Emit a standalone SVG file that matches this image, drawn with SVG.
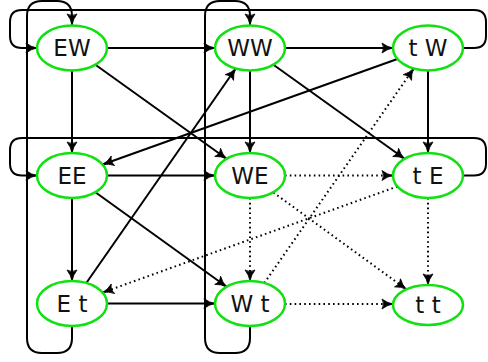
<svg xmlns="http://www.w3.org/2000/svg" width="488" height="362" viewBox="0 0 488 362">
  <defs>
    <marker id="arr" markerUnits="userSpaceOnUse" markerWidth="14" markerHeight="12" viewBox="0 0 14 12" refX="12" refY="6" orient="auto">
      <path d="M1,1 Q6,5 12,6 Q6,7 1,11 Q4,6 1,1 Z" fill="#000" stroke="#000" stroke-width="0.8" stroke-linejoin="round"/>
    </marker>
  </defs>
  <style>
    .node ellipse { fill: #fff; stroke: #11e011; stroke-width: 2.5; }
    .node text { font-family: "DejaVu Sans", sans-serif; font-size: 23px; fill: #111; text-anchor: middle; }
    .e { fill: none; stroke: #000; stroke-width: 2; marker-end: url(#arr); }
    .d { stroke-dasharray: 1.6 3.2; stroke-linecap: butt; }
  </style>

  <g id="edges">
    <!-- wrap-around edges -->
    <path class="e" d="M72,326 L72,338 Q72,353 57,353 L42,353 Q27,353 27,338 L27,16 Q27,1 42,1 L57,1 Q72,1 72,16 L72,25"/>
    <path class="e" d="M250,326 L250,338 Q250,353 235,353 L220,353 Q205,353 205,338 L205,16 Q205,1 220,1 L235,1 Q250,1 250,16 L250,25"/>
    <path class="e" d="M463,48 L474,48 Q486,48 486,36 L486,22 Q486,10 474,10 L22,10 Q10,10 10,22 L10,36 Q10,48 22,48 L37,48"/>
    <path class="e" d="M463,175.5 L474,175.5 Q486,175.5 486,163.5 L486,150 Q486,138 474,138 L22,138 Q10,138 10,150 L10,163.5 Q10,175.5 22,175.5 L37,175.5"/>

    <!-- solid edges -->
    <path class="e" d="M107,48 L215,48"/>
    <path class="e" d="M285,48 L393,48"/>
    <path class="e" d="M72,70.5 L72,153"/>
    <path class="e" d="M250,70.5 L250,153"/>
    <path class="e" d="M428,70.5 L428,153"/>
    <path class="e" d="M107,175.5 L215,175.5"/>
    <path class="e" d="M72,198 L72,281"/>
    <path class="e" d="M107,303.5 L215,303.5"/>
    <path class="e" d="M95.4,64.7 L226.6,158.8"/>
    <path class="e" d="M273.4,64.7 L404.6,158.8"/>
    <path class="e" d="M95.4,192.2 L226.6,286.8"/>
    <path class="e" d="M397.4,59 L102.6,164.5"/>
    <path class="e" d="M86.3,283 L235.7,68.5"/>

    <!-- dotted edges -->
    <path class="e d" d="M285,175.5 L393,175.5"/>
    <path class="e d" d="M250,198 L250,281"/>
    <path class="e d" d="M273.4,192.5 L406.4,289.3"/>
    <path class="e d" d="M397.4,186.5 L102.6,292.5"/>
    <path class="e d" d="M428,198 L428,285"/>
    <path class="e d" d="M264.3,283 L413.7,68.5"/>
    <path class="e d" d="M285,304 L393,304"/>
  </g>

  <g id="EW" class="node"><ellipse cx="72" cy="48" rx="35" ry="22.5"/><text x="72" y="56">EW</text></g>
  <g id="WW" class="node"><ellipse cx="250" cy="48" rx="35" ry="22.5"/><text x="250" y="56">WW</text></g>
  <g id="tW" class="node"><ellipse cx="428" cy="48" rx="35" ry="22.5"/><text x="428" y="56">t W</text></g>
  <g id="EE" class="node"><ellipse cx="72" cy="175.5" rx="35" ry="22.5"/><text x="72" y="183.5">EE</text></g>
  <g id="WE" class="node"><ellipse cx="250" cy="175.5" rx="35" ry="22.5"/><text x="250" y="183.5">WE</text></g>
  <g id="tE" class="node"><ellipse cx="428" cy="175.5" rx="35" ry="22.5"/><text x="428" y="183.5">t E</text></g>
  <g id="Et" class="node"><ellipse cx="72" cy="303.5" rx="35" ry="22.5"/><text x="72" y="311.5">E t</text></g>
  <g id="Wt" class="node"><ellipse cx="250" cy="303.5" rx="35" ry="22.5"/><text x="250" y="311.5">W t</text></g>
  <g id="tt" class="node"><ellipse cx="428" cy="305" rx="35" ry="20"/><text x="428" y="313">t t</text></g>
</svg>
